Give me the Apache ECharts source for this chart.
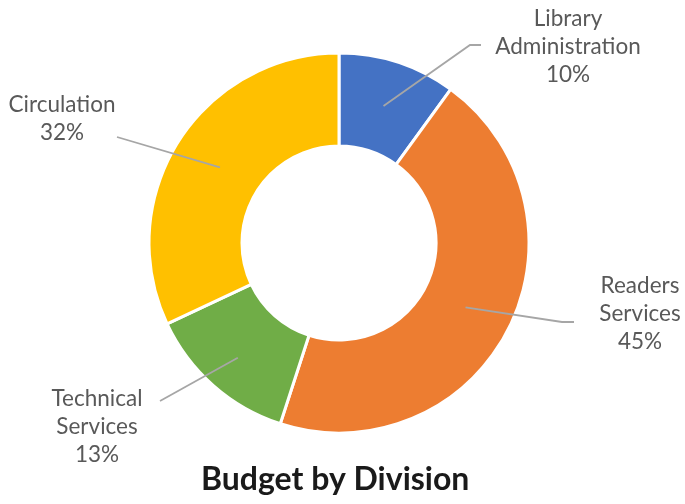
<!DOCTYPE html>
<html>
<head>
<meta charset="utf-8">
<script src="https://cdn.jsdelivr.net/npm/echarts@6/dist/echarts.min.js"></script>
<style>
  html, body { margin: 0; padding: 0; background: #fff; }
  #chart { width: 685px; height: 504px; }
</style>
</head>
<body>
<div id="chart"></div>
<script>
// Budget share per division (percent)
const categories = ['Library\nAdministration', 'Readers\nServices', 'Technical\nServices', 'Circulation'];
const shares = [10, 45, 13, 32];
const sliceColors = ['#4472C4', '#ED7D31', '#70AD47', '#FFC000'];

// Donut geometry
const CX = 339, CY = 243, R_IN = 97, R_OUT = 190;

// Where each label block sits, how far out its leader line starts,
// and the bend points of that line
const labelSpots = [
  { x: 568, y: 47,  anchorR: 144, bend: [[470, 45], [481, 45]] },
  { x: 640, y: 314, anchorR: 142, bend: [[562, 322], [574, 322]] },
  { x: 97,  y: 427, anchorR: 153, bend: [[160, 401], [160, 401]] },
  { x: 62,  y: 119, anchorR: 141, bend: [[117, 137], [117, 137]] }
];

const total = shares.reduce((a, b) => a + b, 0);
function midAnchor(i, r) {
  let before = 0;
  for (let k = 0; k < i; k++) before += shares[k];
  const a = ((before + shares[i] / 2) / total) * 2 * Math.PI;
  return [CX + r * Math.sin(a), CY - r * Math.cos(a)];
}

const pieData = categories.map((name, i) => ({
  name: name,
  value: shares[i],
  itemStyle: { color: sliceColors[i] }
}));

const chart = echarts.init(document.getElementById('chart'), null, { renderer: 'canvas' });
chart.setOption({
  animation: false,
  backgroundColor: '#ffffff',
  title: {
    text: 'Budget by Division',
    left: 196,
    top: 459,
    textStyle: {
      fontFamily: 'Lato',
      fontWeight: 'bold',
      fontSize: 32,
      color: '#1a1a1a'
    }
  },
  series: [
    {
      // the donut itself
      type: 'pie',
      z: 2,
      center: [CX, CY],
      radius: [R_IN, R_OUT],
      startAngle: 90,
      clockwise: true,
      silent: true,
      data: pieData,
      itemStyle: { borderColor: '#ffffff', borderWidth: 3 },
      label: { show: false },
      labelLine: { show: false }
    },
    {
      // transparent copy on top that carries the labels and leader lines
      type: 'pie',
      z: 5,
      center: [CX, CY],
      radius: [R_IN, R_OUT],
      startAngle: 90,
      clockwise: true,
      silent: true,
      data: pieData.map(d => ({ name: d.name, value: d.value })),
      itemStyle: { color: 'rgba(0,0,0,0)', borderWidth: 0 },
      label: {
        show: true,
        position: 'outside',
        formatter: p => p.name + '\n' + Math.round(p.percent) + '%',
        fontFamily: 'Lato',
        fontSize: 22.5,
        lineHeight: 28,
        color: '#595959',
        align: 'center'
      },
      labelLine: {
        show: true,
        lineStyle: { color: '#A6A6A6', width: 1.8 }
      },
      labelLayout: function (params) {
        const i = params.dataIndex;
        const spot = labelSpots[i];
        return {
          x: spot.x,
          y: spot.y,
          align: 'center',
          verticalAlign: 'middle',
          labelLinePoints: [midAnchor(i, spot.anchorR), spot.bend[0], spot.bend[1]]
        };
      }
    }
  ]
});
</script>
</body>
</html>
